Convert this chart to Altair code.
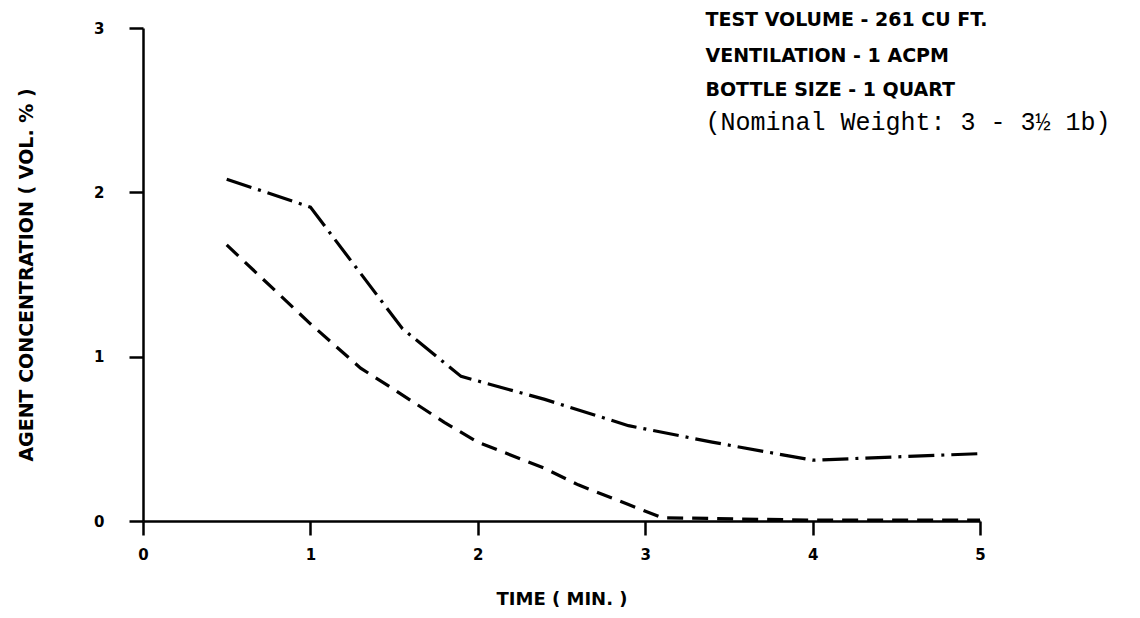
import altair as alt
import pandas as pd

# Series
t_dashdot = [0.5, 1.0, 1.55, 1.9, 2.4, 2.9, 3.4, 4.0, 4.5, 5.0]
c_dashdot = [2.08, 1.91, 1.17, 0.88, 0.74, 0.58, 0.48, 0.37, 0.39, 0.41]

t_dashed = [0.5, 1.0, 1.3, 1.5, 1.8, 2.0, 2.4, 2.6, 2.9, 3.1, 4.0, 5.0]
c_dashed = [1.68, 1.2, 0.93, 0.8, 0.6, 0.48, 0.32, 0.22, 0.1, 0.02, 0.005, 0.005]

x_ticks = [0, 1, 2, 3, 4, 5]
y_ticks = [0, 1, 2, 3]

note_lines = ["TEST VOLUME - 261 CU FT.", "VENTILATION - 1 ACPM", "BOTTLE SIZE - 1 QUART"]
note_extra = ["(Nominal Weight: 3 - 3½ 1b)"]
note_x = 3.36
note_y = [3.05, 2.83, 2.62]
note_extra_y = [2.43]

df_dd = pd.DataFrame({"t": t_dashdot, "c": c_dashdot})
df_da = pd.DataFrame({"t": t_dashed, "c": c_dashed})
df_notes = pd.DataFrame({"t": [note_x] * len(note_lines), "c": note_y, "txt": note_lines})
df_extra = pd.DataFrame({"t": [note_x] * len(note_extra), "c": note_extra_y, "txt": note_extra})

FONT = "DejaVu Sans"

xscale = alt.Scale(domain=[0, 5], nice=False, zero=False)
yscale = alt.Scale(domain=[0, 3], nice=False, zero=False)

xaxis = alt.Axis(
    values=x_ticks, format="d", title="TIME ( MIN. )", grid=False,
    domainColor="black", domainWidth=2.5, tickColor="black", tickWidth=2.5, tickSize=14,
    labelFont=FONT, labelFontWeight="bold", labelFontSize=15, labelColor="black", labelPadding=12,
    titleFont=FONT, titleFontWeight="bold", titleFontSize=18, titleColor="black", titlePadding=28,
    labelFlush=False,
)
yaxis = alt.Axis(
    values=y_ticks, format="d", title="AGENT CONCENTRATION ( VOL. % )", grid=False,
    domainColor="black", domainWidth=2.5, tickColor="black", tickWidth=2.5, tickSize=14,
    labelFont=FONT, labelFontWeight="bold", labelFontSize=15, labelColor="black", labelPadding=25,
    titleFont=FONT, titleFontWeight="bold", titleFontSize=19, titleColor="black", titlePadding=57,
    labelFlush=False,
)

dashdot = alt.Chart(df_dd).mark_line(color="black", strokeWidth=3.2, strokeDash=[26, 7, 3, 7]).encode(
    x=alt.X("t:Q", scale=xscale, axis=xaxis),
    y=alt.Y("c:Q", scale=yscale, axis=yaxis),
)
dashed = alt.Chart(df_da).mark_line(color="black", strokeWidth=3.2, strokeDash=[16, 9]).encode(
    x=alt.X("t:Q", scale=xscale),
    y=alt.Y("c:Q", scale=yscale),
)
notes = alt.Chart(df_notes).mark_text(
    align="left", baseline="middle", font=FONT, fontWeight="bold", fontSize=19, color="black"
).encode(x=alt.X("t:Q", scale=xscale), y=alt.Y("c:Q", scale=yscale), text="txt:N")
extra = alt.Chart(df_extra).mark_text(
    align="left", baseline="middle", font="Liberation Mono", fontSize=25, color="black"
).encode(x=alt.X("t:Q", scale=xscale), y=alt.Y("c:Q", scale=yscale), text="txt:N")

chart = (
    alt.layer(dashdot, dashed, notes, extra)
    .properties(
        width=837, height=493,
        autosize=alt.AutoSizeParams(type="none"),
        padding={"left": 135, "top": 20, "right": 150, "bottom": 89},
        background="white",
    )
    .configure_view(stroke=None)
)

chart.save("out.html", embed_options={"renderer": "svg", "actions": False})
